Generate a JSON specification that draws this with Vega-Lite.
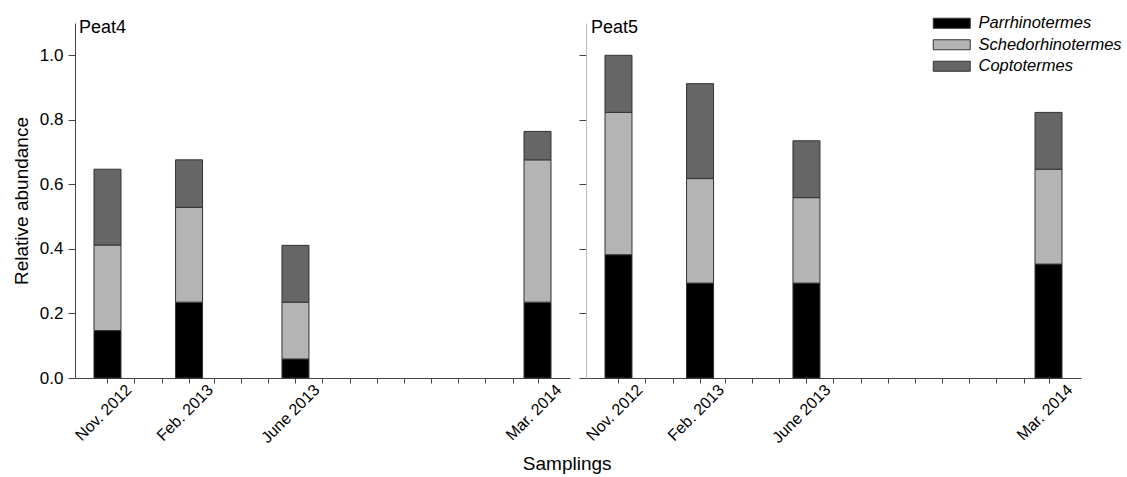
{
  "$schema": "https://vega.github.io/schema/vega-lite/v6.json",
  "padding": {"left": 12, "top": 15, "right": 5, "bottom": 0},
  "background": "white",
  "config": {
    "font": "Liberation Sans",
    "view": {"stroke": null},
    "axis": {"grid": false, "labelColor": "#000", "titleColor": "#000", "domainColor": "#444", "tickColor": "#444", "titleFontWeight": "normal"}
  },
  "datasets": {
    "abund": [
      {"site": "Peat4", "date": "2012-11-01", "genus": "Parrhinotermes", "idx": 1, "value": 0.147},
      {"site": "Peat4", "date": "2012-11-01", "genus": "Schedorhinotermes", "idx": 2, "value": 0.265},
      {"site": "Peat4", "date": "2012-11-01", "genus": "Coptotermes", "idx": 3, "value": 0.235},
      {"site": "Peat4", "date": "2013-02-01", "genus": "Parrhinotermes", "idx": 1, "value": 0.235},
      {"site": "Peat4", "date": "2013-02-01", "genus": "Schedorhinotermes", "idx": 2, "value": 0.294},
      {"site": "Peat4", "date": "2013-02-01", "genus": "Coptotermes", "idx": 3, "value": 0.147},
      {"site": "Peat4", "date": "2013-06-01", "genus": "Parrhinotermes", "idx": 1, "value": 0.059},
      {"site": "Peat4", "date": "2013-06-01", "genus": "Schedorhinotermes", "idx": 2, "value": 0.176},
      {"site": "Peat4", "date": "2013-06-01", "genus": "Coptotermes", "idx": 3, "value": 0.176},
      {"site": "Peat4", "date": "2014-03-01", "genus": "Parrhinotermes", "idx": 1, "value": 0.235},
      {"site": "Peat4", "date": "2014-03-01", "genus": "Schedorhinotermes", "idx": 2, "value": 0.441},
      {"site": "Peat4", "date": "2014-03-01", "genus": "Coptotermes", "idx": 3, "value": 0.088},
      {"site": "Peat5", "date": "2012-11-01", "genus": "Parrhinotermes", "idx": 1, "value": 0.382},
      {"site": "Peat5", "date": "2012-11-01", "genus": "Schedorhinotermes", "idx": 2, "value": 0.441},
      {"site": "Peat5", "date": "2012-11-01", "genus": "Coptotermes", "idx": 3, "value": 0.177},
      {"site": "Peat5", "date": "2013-02-01", "genus": "Parrhinotermes", "idx": 1, "value": 0.294},
      {"site": "Peat5", "date": "2013-02-01", "genus": "Schedorhinotermes", "idx": 2, "value": 0.324},
      {"site": "Peat5", "date": "2013-02-01", "genus": "Coptotermes", "idx": 3, "value": 0.294},
      {"site": "Peat5", "date": "2013-06-01", "genus": "Parrhinotermes", "idx": 1, "value": 0.294},
      {"site": "Peat5", "date": "2013-06-01", "genus": "Schedorhinotermes", "idx": 2, "value": 0.265},
      {"site": "Peat5", "date": "2013-06-01", "genus": "Coptotermes", "idx": 3, "value": 0.176},
      {"site": "Peat5", "date": "2014-03-01", "genus": "Parrhinotermes", "idx": 1, "value": 0.353},
      {"site": "Peat5", "date": "2014-03-01", "genus": "Schedorhinotermes", "idx": 2, "value": 0.294},
      {"site": "Peat5", "date": "2014-03-01", "genus": "Coptotermes", "idx": 3, "value": 0.176}
    ]
  },
  "title": {"text": "Samplings", "orient": "bottom", "anchor": "middle", "fontSize": 19, "fontWeight": "normal", "offset": 9, "color": "#000"},
  "bounds": "flush",
  "spacing": 16,
  "resolve": {"scale": {"color": "independent"}},
  "hconcat": [
    {
      "width": 495,
      "height": 355,
      "title": {"text": "Peat4", "anchor": "start", "frame": "group", "orient": "top", "offset": -14, "dx": 4, "fontSize": 18, "fontWeight": "normal", "color": "#000"},
      "data": {"name": "abund"},
      "transform": [{"filter": "datum.site == 'Peat4'"}],
      "mark": {"type": "bar", "width": 27, "stroke": "#333", "strokeWidth": 1},
      "encoding": {
        "x": {
          "field": "date", "type": "temporal",
          "scale": {"type": "utc", "domain": [1349049600000, 1396310400000]},
          "axis": {
            "title": null,
            "values": [1351728000000, 1354320000000, 1356998400000, 1359676800000, 1362096000000, 1364774400000, 1367366400000, 1370044800000, 1372636800000, 1375315200000, 1377993600000, 1380585600000, 1383264000000, 1385856000000, 1388534400000, 1391212800000, 1393632000000],
            "labelExpr": "utcFormat(datum.value, '%Y-%m') == '2012-11' ? 'Nov. 2012' : utcFormat(datum.value, '%Y-%m') == '2013-02' ? 'Feb. 2013' : utcFormat(datum.value, '%Y-%m') == '2013-06' ? 'June 2013' : utcFormat(datum.value, '%Y-%m') == '2014-03' ? 'Mar. 2014' : ''",
            "labelAngle": -45, "labelAlign": "right", "labelBaseline": "middle",
            "labelOffset": 21, "labelPadding": 4, "tickSize": 5,
            "labelFontSize": 16, "labelOverlap": false, "labelFlush": false, "labelBound": false
          }
        },
        "y": {
          "field": "value", "type": "quantitative", "stack": "zero",
          "scale": {"domain": [0, 1.1], "nice": false},
          "axis": {"title": "Relative abundance", "values": [0, 0.2, 0.4, 0.6, 0.8, 1.0], "format": ".1f", "tickSize": 7, "labelPadding": 5, "labelFontSize": 17, "titleFontSize": 19, "titlePadding": 8}
        },
        "color": {
          "field": "genus", "type": "nominal",
          "scale": {"domain": ["Parrhinotermes", "Schedorhinotermes", "Coptotermes"], "range": ["#000000", "#b4b4b4", "#666666"]},
          "legend": null
        },
        "order": {"field": "idx", "type": "quantitative"}
      }
    },
    {
      "width": 495,
      "height": 355,
      "title": {"text": "Peat5", "anchor": "start", "frame": "group", "orient": "top", "offset": -22, "dx": 5, "fontSize": 18, "fontWeight": "normal", "color": "#000"},
      "data": {"name": "abund"},
      "transform": [{"filter": "datum.site == 'Peat5'"}],
      "mark": {"type": "bar", "width": 27, "stroke": "#333", "strokeWidth": 1},
      "encoding": {
        "x": {
          "field": "date", "type": "temporal",
          "scale": {"type": "utc", "domain": [1349049600000, 1396310400000]},
          "axis": {
            "title": null,
            "values": [1351728000000, 1354320000000, 1356998400000, 1359676800000, 1362096000000, 1364774400000, 1367366400000, 1370044800000, 1372636800000, 1375315200000, 1377993600000, 1380585600000, 1383264000000, 1385856000000, 1388534400000, 1391212800000, 1393632000000],
            "labelExpr": "utcFormat(datum.value, '%Y-%m') == '2012-11' ? 'Nov. 2012' : utcFormat(datum.value, '%Y-%m') == '2013-02' ? 'Feb. 2013' : utcFormat(datum.value, '%Y-%m') == '2013-06' ? 'June 2013' : utcFormat(datum.value, '%Y-%m') == '2014-03' ? 'Mar. 2014' : ''",
            "labelAngle": -45, "labelAlign": "right", "labelBaseline": "middle",
            "labelOffset": 21, "labelPadding": 4, "tickSize": 5,
            "labelFontSize": 16, "labelOverlap": false, "labelFlush": false, "labelBound": false
          }
        },
        "y": {
          "field": "value", "type": "quantitative", "stack": "zero",
          "scale": {"domain": [0, 1.1], "nice": false},
          "axis": {"title": null, "values": [0, 0.2, 0.4, 0.6, 0.8, 1.0], "labels": false, "tickSize": 7, "domainColor": "#bbbbbb"}
        },
        "color": {
          "field": "genus", "type": "nominal",
          "scale": {"domain": ["Parrhinotermes", "Schedorhinotermes", "Coptotermes"], "range": ["#000000", "#b4b4b4", "#666666"]},
          "legend": {
            "title": null, "orient": "none", "legendX": 344, "legendY": -8,
            "symbolType": "M-1,-1H6.4V1H-1Z", "symbolSize": 100,
            "symbolStrokeColor": "#333", "symbolStrokeWidth": 1,
            "labelOffset": 32, "labelFontSize": 16.5, "labelFontStyle": "italic", "labelColor": "#000",
            "rowPadding": 4.5
          }
        },
        "order": {"field": "idx", "type": "quantitative"}
      }
    }
  ]
}
